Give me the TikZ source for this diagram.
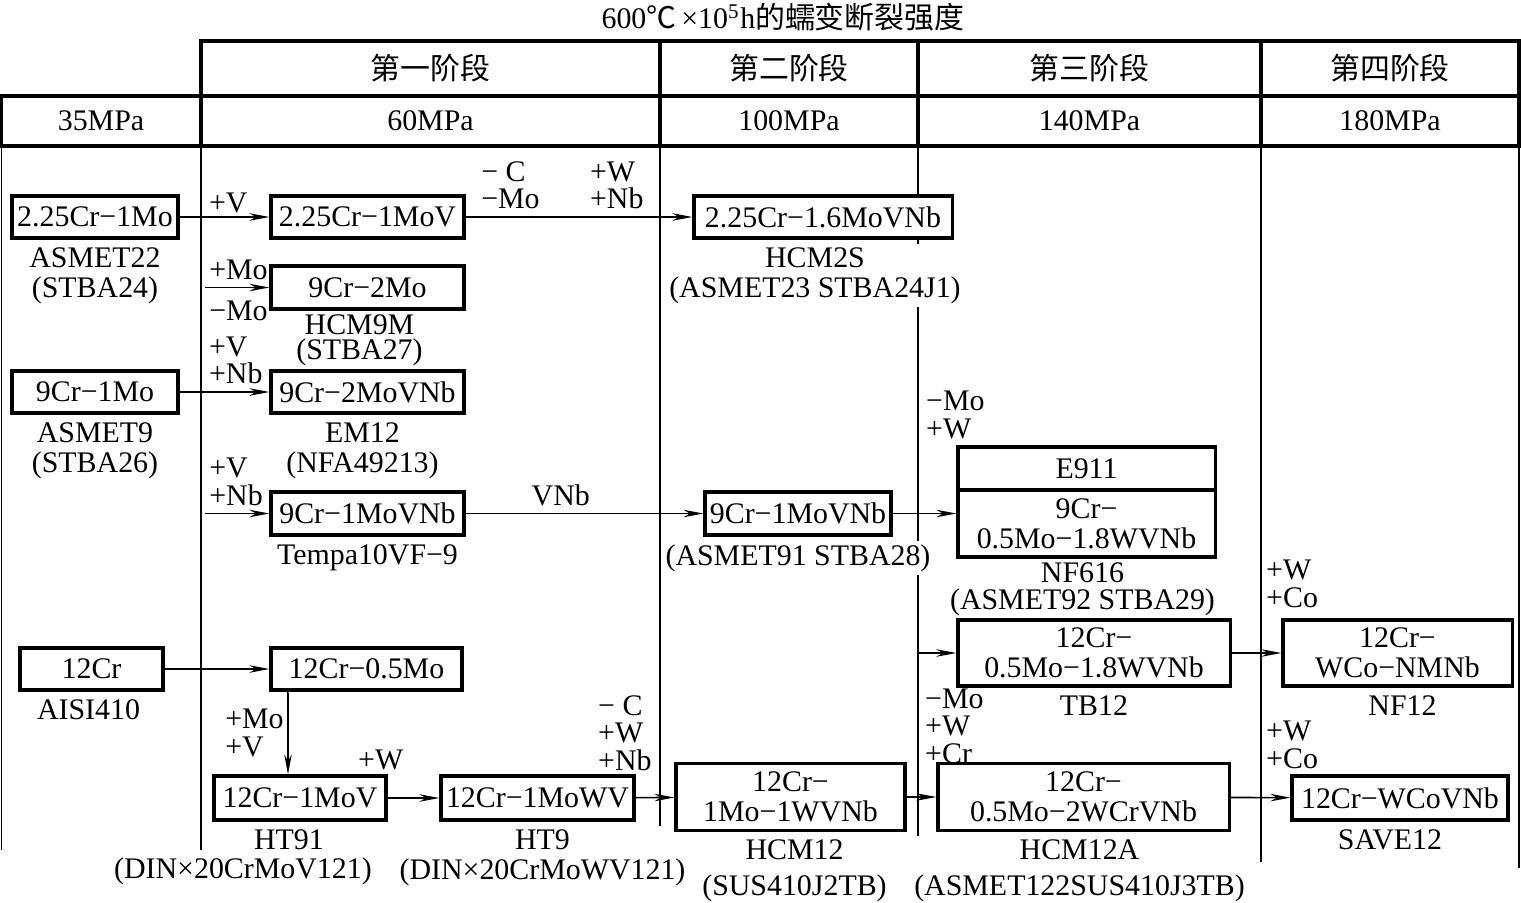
\documentclass[tikz,border=0pt]{standalone}
\usepackage{fontspec}
\setmainfont{Liberation Serif}
\newfontfamily\cjk{Noto Sans CJK SC}
\usetikzlibrary{arrows.meta,positioning}
\pgfdeclarelayer{back}
\pgfdeclarelayer{lbls}
\pgfsetlayers{back,lbls,main}

\begin{document}
\begin{tikzpicture}[
    x=0.01cm, y=-0.01cm,
    every node/.style={font=\fontsize{8.5}{8.6}\selectfont},
    cell/.style={draw, line width=1.1pt, inner sep=0pt},
    box/.style={draw, fill=white, line width=0.9pt, align=center, inner sep=1pt,
                minimum height=0.42cm},
    lbl/.style={align=center, inner sep=1pt, fill=white},
    mod/.style={align=left, inner sep=1pt, font=\fontsize{8.5}{7.8}\selectfont},
    arr/.style={-{Stealth[length=2mm, width=0.75mm]}, line width=0.45pt},
    col/.style={line width=0.5pt}
]
\useasboundingbox (0,0) rectangle (1521,903);

% title
\node (title) at (783,17) {600{\cjk ℃}\,×10\textsuperscript{5}h{\cjk 的蠕变断裂强度}};

% header
\node[cell, minimum width=4.59cm, minimum height=0.55cm] (st1) at (430.5,68.5) {\cjk 第一阶段};
\node[cell, minimum width=2.58cm, minimum height=0.55cm] (st2) at (789,68.5) {\cjk 第二阶段};
\node[cell, minimum width=3.43cm, minimum height=0.55cm] (st3) at (1089.5,68.5) {\cjk 第三阶段};
\node[cell, minimum width=2.58cm, minimum height=0.55cm] (st4) at (1390,68.5) {\cjk 第四阶段};
\node[cell, minimum width=2.0cm, minimum height=0.5cm] (p35) at (101,121) {35MPa};
\node[cell, minimum width=4.59cm, minimum height=0.5cm] (p60) at (430.5,121) {60MPa};
\node[cell, minimum width=2.58cm, minimum height=0.5cm] (p100) at (789,121) {100MPa};
\node[cell, minimum width=3.43cm, minimum height=0.5cm] (p140) at (1089.5,121) {140MPa};
\node[cell, minimum width=2.58cm, minimum height=0.5cm] (p180) at (1390,121) {180MPa};

% column lines
\begin{pgfonlayer}{back}
\foreach \x/\yb in {1.5/850, 201/850, 660/850, 918/850, 1261/862, 1519/868}
    \draw[col] (\x,146) -- (\x,\yb);
\end{pgfonlayer}

% steels
\node[box, minimum width=1.66cm] (b225) at (95,217) {2.25Cr−1Mo};
\node[box, minimum width=1.93cm] (b225v) at (367.5,217) {2.25Cr−1MoV};
\node[box, minimum width=2.58cm] (hcm2s) at (823,217) {2.25Cr−1.6MoVNb};
\node[box, minimum width=1.93cm, minimum height=0.43cm] (hcm9m) at (367.5,287.5) {9Cr−2Mo};
\node[box, minimum width=1.66cm] (b9cr) at (95,392) {9Cr−1Mo};
\node[box, minimum width=1.93cm] (em12) at (367.5,392) {9Cr−2MoVNb};
\node[box, minimum width=1.93cm, minimum height=0.43cm] (tempa) at (367.5,513.5) {9Cr−1MoVNb};
\node[box, minimum width=1.86cm, minimum height=0.43cm] (t91) at (798,513.5) {9Cr−1MoVNb};
\node[box, minimum width=2.57cm, minimum height=0.43cm] (e911) at (1086.5,468.5) {E911};
\node[box, minimum width=2.57cm, minimum height=0.67cm, below=-0.9pt of e911] (nf616)
    {9Cr−\\0.5Mo−1.8WVNb};
\node[box, minimum width=2.72cm, minimum height=0.66cm] (tb12) at (1094,653)
    {12Cr−\\0.5Mo−1.8WVNb};
\node[box, minimum width=2.29cm, minimum height=0.66cm] (nf12) at (1397.5,653)
    {12Cr−\\WCo−NMNb};
\node[box, minimum width=1.43cm] (b12cr) at (91.5,669) {12Cr};
\node[box, minimum width=1.91cm] (b12mo) at (366.5,669) {12Cr−0.5Mo};
\node[box, minimum width=1.72cm, minimum height=0.44cm] (ht91) at (300,798) {12Cr−1MoV};
\node[box, minimum width=1.93cm, minimum height=0.44cm] (ht9) at (537.5,798) {12Cr−1MoWV};
\node[box, minimum width=2.29cm, minimum height=0.67cm] (hcm12) at (790.5,797)
    {12Cr−\\1Mo−1WVNb};
\node[box, minimum width=2.91cm, minimum height=0.67cm] (hcm12a) at (1083.5,797)
    {12Cr−\\0.5Mo−2WCrVNb};
\node[box, minimum width=2.16cm, minimum height=0.44cm] (save12) at (1400,798) {12Cr−WCoVNb};

% designations
\begin{pgfonlayer}{lbls}
\node[lbl, below=1pt of b225] (l225) {ASMET22\\(STBA24)};
\node[lbl, below=1pt of hcm2s, xshift=-0.08cm] (lhcm2s) {HCM2S\\(ASMET23 STBA24J1)};
\node[lbl, below=0pt of hcm9m, xshift=-0.08cm] (lhcm9m) {HCM9M\\[-1.5pt](STBA27)};
\node[lbl, below=1pt of b9cr] (l9cr) {ASMET9\\(STBA26)};
\node[lbl, below=1pt of em12, xshift=-0.05cm] (lem12) {EM12\\(NFA49213)};
\node[lbl, below=1pt of tempa] (ltempa) {Tempa10VF−9};
\node[lbl, below=1pt of t91] (lt91) {(ASMET91 STBA28)};
\node[lbl, below=0pt of nf616, xshift=-0.04cm] (lnf616) {NF616\\[-1pt](ASMET92 STBA29)};
\node[lbl, below=1pt of tb12] (ltb12) {TB12};
\node[lbl, below=1pt of nf12, xshift=0.05cm] (lnf12) {NF12};
\node[lbl, below=1pt of b12cr, xshift=-0.03cm] (l12cr) {AISI410};
\node[lbl, below=1pt of ht91, xshift=-0.11cm] (lht91) {HT91};
\node[lbl, below=0pt of lht91, xshift=-0.46cm] (ldin1) {(DIN×20CrMoV121)};
\node[lbl, below=1pt of ht9, xshift=0.05cm] (lht9) {HT9\\(DIN×20CrMoWV121)};
\node[lbl, below=1pt of hcm12, xshift=0.04cm] (lhcm12) {HCM12\\[1.5pt](SUS410J2TB)};
\node[lbl, below=1pt of hcm12a, xshift=-0.04cm] (lhcm12a) {HCM12A\\[1.5pt](ASMET122SUS410J3TB)};
\node[lbl, below=1pt of save12, xshift=-0.1cm] (lsave12) {SAVE12};
\end{pgfonlayer}

% alloying changes
\coordinate (mo9in) at (205,287.5);
\coordinate (vnbin) at (205,513.5);
\coordinate (tbin) at (918,653);

\draw[arr] (b225) -- (b225v) node[mod, pos=0.28, above right] (m1) {+V};
\draw[arr] (b225v) -- (hcm2s)
    node[mod, pos=0.05, above right, yshift=1pt] (m2) {− C\\−Mo}
    node[mod, pos=0.53, above right, yshift=1pt] (m3) {+W\\+Nb};
\draw[arr] (mo9in) -- (hcm9m)
    node[mod, pos=0, above right, yshift=1pt] (m4) {+Mo}
    node[mod, pos=0, below right, yshift=-2.5pt] (m5) {−Mo};
\draw[arr] (b9cr) -- (em12) node[mod, pos=0.28, above right, yshift=1pt] (m6) {+V\\+Nb};
\draw[arr] (vnbin) -- (tempa) node[mod, pos=0, above right, yshift=1pt] (m7) {+V\\+Nb};
\draw[arr] (tempa) -- (t91) node[mod, pos=0.4, above, yshift=1pt] (m8) {VNb};
\draw[arr] (t91.east) -- (t91.east -| nf616.west);
\node[mod, anchor=west] (m9) at (922,415) {−Mo\\+W};
\draw[arr] (tbin) -- (tb12);
\draw[arr] (tb12) -- (nf12);
\node[mod, anchor=west] (m10) at (1262,584) {+W\\+Co};
\draw[arr] (b12cr) -- (b12mo);
\draw[arr] ([xshift=-0.785cm]b12mo.south) -- ([xshift=-0.12cm]ht91.north)
    node[mod, midway, left] (m11) {+Mo\\+V};
\draw[arr] (ht91) -- (ht9);
\node[mod, anchor=west] (m12) at (354,760) {+W};
\draw[arr] (ht9) -- (hcm12);
\node[mod, anchor=west] (m13) at (594,733) {− C\\+W\\+Nb};
\draw[arr] (hcm12) -- (hcm12a);
\node[mod, anchor=west] (m14) at (921,726) {−Mo\\+W\\+Cr};
\draw[arr] (hcm12a) -- (save12);
\node[mod, anchor=west] (m15) at (1262,745) {+W\\+Co};

\end{tikzpicture}
\end{document}
